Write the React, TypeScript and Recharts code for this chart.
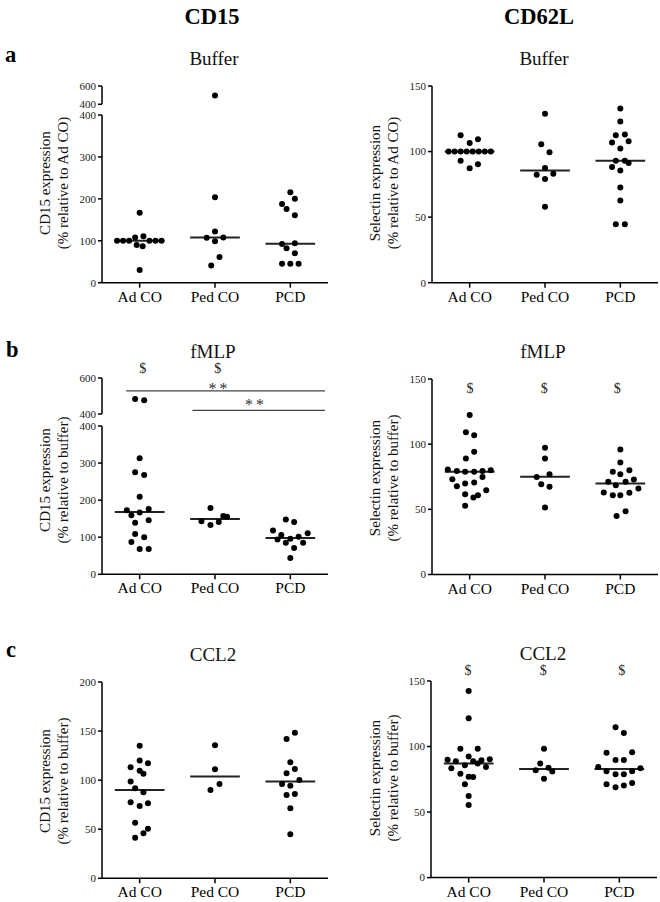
import React from "react";
import { ScatterChart, Scatter, XAxis, YAxis, ReferenceLine } from "recharts";

const groups = ["Ad CO", "Ped CO", "PCD"];

// each point: [value, horizontal jitter in category units]
type Pt = [number, number];

// CD15 - Buffer (% relative to Ad CO)
const cd15BufAd: Pt[] = [[167, 0], [100, -0.3], [100, -0.22], [100, -0.14], [108, -0.06], [111, 0.05], [90, -0.04], [87, 0.04], [100, 0.13], [100, 0.21], [100, 0.29], [30, 0]];
const cd15BufPed: Pt[] = [[495, 0], [204, 0], [122, 0], [107, -0.11], [99, 0], [108, 0.11], [61, 0.06], [41, -0.05]];
const cd15BufPcd: Pt[] = [[216, 0], [200, 0.06], [188, -0.11], [176, -0.05], [161, 0.06], [92, -0.11], [94, 0.06], [82, -0.05], [70, 0.06], [45, -0.11], [45, 0], [45, 0.11]];
const cd15BufMed = [100, 108, 93];

// CD62L - Buffer
const cd62BufAd: Pt[] = [[112.5, -0.12], [109.4, 0.11], [106.6, 0], [100, -0.28], [100, -0.2], [100, -0.12], [100, -0.04], [100, 0.04], [100, 0.12], [100, 0.2], [100, 0.28], [92.9, -0.12], [90.3, 0.11], [87.3, 0]];
const cd62BufPed: Pt[] = [[128.8, 0], [105.6, -0.05], [99.5, 0.06], [87.5, 0], [82.4, -0.11], [83, 0.11], [79.1, 0], [58, 0]];
const cd62BufPcd: Pt[] = [[132.8, 0], [122.9, 0], [112.5, -0.06], [113, 0.06], [106.9, -0.11], [107.9, 0.11], [102.3, 0], [92.9, -0.06], [92.9, 0.06], [91.3, 0.11], [88.3, -0.11], [85.5, 0], [72.5, 0], [62.6, 0], [44.5, -0.06], [44.5, 0.06]];
const cd62BufMed = [100, 85.5, 93];

// CD15 - fMLP (% relative to buffer)
const cd15FmlpAd: Pt[] = [[483, -0.06], [476, 0.06], [313, 0], [275, -0.06], [268, 0.06], [209, 0], [173, -0.17], [176, 0.12], [159, -0.11], [167, 0], [139, -0.06], [146, 0.12], [109, -0.06], [100, 0.06], [87, -0.11], [68, 0], [68, 0.12]];
const cd15FmlpPed: Pt[] = [[179, -0.06], [143, -0.18], [133, -0.06], [141, 0.05], [157, 0.11], [155, 0.16]];
const cd15FmlpPcd: Pt[] = [[148, -0.06], [141, 0.05], [118, -0.23], [106, -0.12], [111, 0.23], [94, -0.17], [96, 0], [101, 0.11], [85, -0.06], [85, 0.17], [71, 0.05], [44, 0]];
const cd15FmlpMed = [168, 149, 98];

// CD62L - fMLP
const cd62FmlpAd: Pt[] = [[122.3, 0], [109.2, -0.05], [106.9, 0.06], [94.1, 0.06], [89, -0.05], [80.6, -0.29], [79.5, -0.17], [78.8, -0.06], [78.8, 0.06], [79.5, 0.17], [80, 0.28], [73.1, -0.23], [74.9, 0.17], [67.8, -0.17], [69.8, -0.06], [70.6, 0.06], [61.6, -0.06], [64.7, 0.22], [59.1, 0.05], [60.9, 0.11], [52.7, -0.06]];
const cd62FmlpPed: Pt[] = [[97.2, 0], [89, 0], [74.9, -0.11], [77, 0.06], [69.3, -0.05], [67.3, 0.06], [51.4, 0]];
const cd62FmlpPcd: Pt[] = [[95.9, 0], [85.9, 0], [78.8, -0.1], [80, 0.12], [77, 0], [71.1, -0.16], [72.9, 0.18], [68.5, -0.06], [71.1, 0.07], [62.9, -0.22], [60.9, -0.1], [60.9, 0], [62.7, 0.12], [66, 0.24], [44.8, -0.05], [48.6, 0.07]];
const cd62FmlpMed = [78.8, 75, 69.8];

// CD15 - CCL2
const cd15CclAd: Pt[] = [[135.1, 0], [119.9, 0], [113.1, -0.12], [117.1, 0.11], [109.7, 0], [106.6, 0.05], [98.5, -0.12], [91.7, -0.06], [87.6, 0.05], [77.4, -0.12], [76.4, 0.11], [73.7, 0], [56.7, -0.06], [50.6, 0.11], [45.8, 0.05], [41.4, -0.06]];
const cd15CclPed: Pt[] = [[135.5, 0], [111, 0], [96.1, 0.06], [90, -0.06]];
const cd15CclPcd: Pt[] = [[148.4, 0.06], [141.9, -0.05], [118.2, 0], [107, -0.05], [111.4, 0.06], [96.1, -0.11], [94.4, 0], [100.2, 0.12], [84.9, -0.05], [85.9, 0.06], [71.3, 0], [44.8, 0]];
const cd15CclMed = [90, 103.6, 98.5];

// CD62L - CCL2
const cd62CclAd: Pt[] = [[142.4, 0], [121.5, 0], [98.4, -0.11], [98.4, 0.12], [92.3, 0], [90, -0.28], [88.7, -0.17], [85.7, -0.05], [88.7, 0.06], [89.5, 0.17], [90.3, 0.28], [83.4, -0.23], [84.4, 0.23], [87, 0.12], [79.3, -0.11], [77, 0], [76.8, 0.06], [71.2, -0.05], [62.3, 0], [55.4, 0]];
const cd62CclPed: Pt[] = [[98.4, 0], [87, -0.05], [81.9, -0.11], [83.9, 0.06], [80.9, 0.11], [75.5, 0]];
const cd62CclPcd: Pt[] = [[114.7, -0.05], [110.3, 0.06], [95.3, -0.17], [95.6, 0.17], [89.8, -0.05], [89.8, 0.06], [84.4, -0.28], [83.4, 0.28], [81.1, -0.17], [78.8, -0.05], [78.8, 0.06], [81.1, 0.17], [71.2, -0.17], [68.9, -0.05], [70.2, 0.06], [72.2, 0.17]];
const cd62CclMed = [87, 82.9, 82.9];

const ff = "'Liberation Serif', 'Times New Roman', serif";

const dot = (p: any) => <circle cx={p.cx} cy={p.cy} r={3} fill="#000" />;

type Bracket = { y: number; from: number; to: number };

function Plot(props: {
	left: number;
	top: number;
	w: number;
	h: number;
	domain: [number, number];
	ticks: number[];
	sets: Pt[][];
	medians?: number[];
	showX?: boolean;
	brackets?: Bracket[];
}) {
	const { left, top, w, h, domain, ticks, sets, medians = [], showX = true, brackets = [] } = props;
	const padL = 40;
	const padT = 6;
	const padR = 4;
	const padB = showX ? 30 : 9;
	const inRange = (v: number) => v >= domain[0] && v <= domain[1];
	const axisStyle = { stroke: "#000", strokeWidth: 1.5 };
	return (
		<div style={{ position: "absolute", left: left - padL, top: top - padT }}>
			<ScatterChart
				width={w + padL + padR}
				height={h + padT + padB}
				margin={{ top: padT, right: padR, bottom: showX ? 0 : padB, left: 0 }}>
				<XAxis
					type="number"
					dataKey="x"
					domain={[-0.5, 2.5]}
					ticks={[0, 1, 2]}
					interval={0}
					hide={!showX}
					height={30}
					tickFormatter={(v: number) => groups[v]}
					axisLine={axisStyle}
					tickLine={axisStyle}
					tickSize={5}
					tickMargin={3}
					tick={{ fontSize: 15.5, fill: "#000", fontFamily: ff }}
				/>
				<YAxis
					type="number"
					dataKey="y"
					domain={domain}
					ticks={ticks}
					interval={0}
					width={padL}
					allowDataOverflow
					axisLine={axisStyle}
					tickLine={axisStyle}
					tickSize={4}
					tickMargin={2}
					tick={{ fontSize: 11, fill: "#222", fontFamily: ff }}
				/>
				{sets.map((s, i) => (
					<Scatter
						key={i}
						data={s.filter((p) => inRange(p[0])).map((p) => ({ x: i + p[1], y: p[0] }))}
						fill="#000"
						shape={dot}
						isAnimationActive={false}
					/>
				))}
				{medians.map((m, i) =>
					inRange(m) ? (
						<ReferenceLine
							key={"m" + i}
							segment={[{ x: i - 0.33, y: m }, { x: i + 0.33, y: m }]}
							stroke="#222"
							strokeWidth={2}
						/>
					) : null
				)}
				{brackets.map((b, i) => (
					<ReferenceLine
						key={"b" + i}
						segment={[{ x: b.from, y: b.y }, { x: b.to, y: b.y }]}
						stroke="#444"
						strokeWidth={1.3}
					/>
				))}
			</ScatterChart>
		</div>
	);
}

const YLabel = ({ x, y, l1, l2 }: { x: number; y: number; l1: string; l2: string }) => (
	<g fontSize={15} fontFamily={ff} fill="#111" textAnchor="middle">
		<text x={x} y={y} transform={`rotate(-90 ${x} ${y})`} dominantBaseline="central">
			{l1}
		</text>
		<text x={x + 18} y={y} transform={`rotate(-90 ${x + 18} ${y})`} dominantBaseline="central">
			{l2}
		</text>
	</g>
);

export default function App() {
	const cd15Buf = [cd15BufAd, cd15BufPed, cd15BufPcd];
	const cd15Fmlp = [cd15FmlpAd, cd15FmlpPed, cd15FmlpPcd];
	return (
		<div
			style={{
				position: "absolute",
				left: 0,
				top: 0,
				width: 660,
				height: 902,
				background: "#fff",
				WebkitFontSmoothing: "antialiased",
			}}>
			{/* a */}
			<Plot left={102} top={86} w={226} h={18.3} domain={[400, 600]} ticks={[400, 600]} sets={cd15Buf} showX={false} />
			<Plot left={102} top={115} w={226} h={167.7} domain={[0, 400]} ticks={[0, 100, 200, 300, 400]} sets={cd15Buf} medians={cd15BufMed} />
			<Plot left={432} top={86} w={226} h={196.7} domain={[0, 150]} ticks={[0, 50, 100, 150]} sets={[cd62BufAd, cd62BufPed, cd62BufPcd]} medians={cd62BufMed} />
			{/* b */}
			<Plot
				left={102}
				top={378.3}
				w={226}
				h={36}
				domain={[400, 600]}
				ticks={[400, 600]}
				sets={cd15Fmlp}
				showX={false}
				brackets={[
					{ y: 529, from: -0.18, to: 2.46 },
					{ y: 420, from: 0.7, to: 2.46 },
				]}
			/>
			<Plot left={102} top={425.7} w={226} h={148.3} domain={[0, 400]} ticks={[0, 100, 200, 300, 400]} sets={cd15Fmlp} medians={cd15FmlpMed} />
			<Plot left={432} top={379} w={226} h={195.5} domain={[0, 150]} ticks={[0, 50, 100, 150]} sets={[cd62FmlpAd, cd62FmlpPed, cd62FmlpPcd]} medians={cd62FmlpMed} />
			{/* c */}
			<Plot left={102} top={682} w={226} h={196.3} domain={[0, 200]} ticks={[0, 50, 100, 150, 200]} sets={[cd15CclAd, cd15CclPed, cd15CclPcd]} medians={cd15CclMed} />
			<Plot left={431} top={680.7} w={226} h={196.6} domain={[0, 150]} ticks={[0, 50, 100, 150]} sets={[cd62CclAd, cd62CclPed, cd62CclPcd]} medians={cd62CclMed} />

			<svg width={660} height={902} style={{ position: "absolute", left: 0, top: 0, pointerEvents: "none" }}>
				<g fontFamily={ff} fill="#000" fontWeight="bold" fontSize={22.5}>
					<text x={212} y={23.5} textAnchor="middle">CD15</text>
					<text x={539} y={23.5} textAnchor="middle">CD62L</text>
					<text x={5} y={62}>a</text>
					<text x={6} y={357}>b</text>
					<text x={6} y={657}>c</text>
				</g>
				<g fontFamily={ff} fill="#111" fontSize={19} textAnchor="middle">
					<text x={214} y={65}>Buffer</text>
					<text x={544} y={65}>Buffer</text>
					<text x={213} y={358}>fMLP</text>
					<text x={543} y={358}>fMLP</text>
					<text x={213} y={661}>CCL2</text>
					<text x={543} y={660}>CCL2</text>
				</g>
				<YLabel x={45} y={183} l1="CD15 expression" l2="(% relative to Ad CO)" />
				<YLabel x={375} y={183} l1="Selectin expression" l2="(% relative to Ad CO)" />
				<YLabel x={45} y={480} l1="CD15 expression" l2="(% relative to buffer)" />
				<YLabel x={375} y={478} l1="Selectin expression" l2="(% relative to buffer)" />
				<YLabel x={45} y={781} l1="CD15 expression" l2="(% relative to buffer)" />
				<YLabel x={375} y={778} l1="Selectin expression" l2="(% relative to buffer)" />
				<g fontFamily={ff} fill="#222" fontSize={14} textAnchor="middle">
					<text x={142.7} y={373}>$</text>
					<text x={217.7} y={373}>$</text>
					<text x={470} y={393}>$</text>
					<text x={544.3} y={393}>$</text>
					<text x={617.3} y={393}>$</text>
					<text x={468} y={675}>$</text>
					<text x={543.3} y={675}>$</text>
					<text x={621.7} y={675}>$</text>
				</g>
				<g fontFamily={ff} fill="#333" fontSize={16} textAnchor="middle" letterSpacing={3}>
					<text x={219.5} y={394}>**</text>
					<text x={256} y={410}>**</text>
				</g>
			</svg>
		</div>
	);
}
